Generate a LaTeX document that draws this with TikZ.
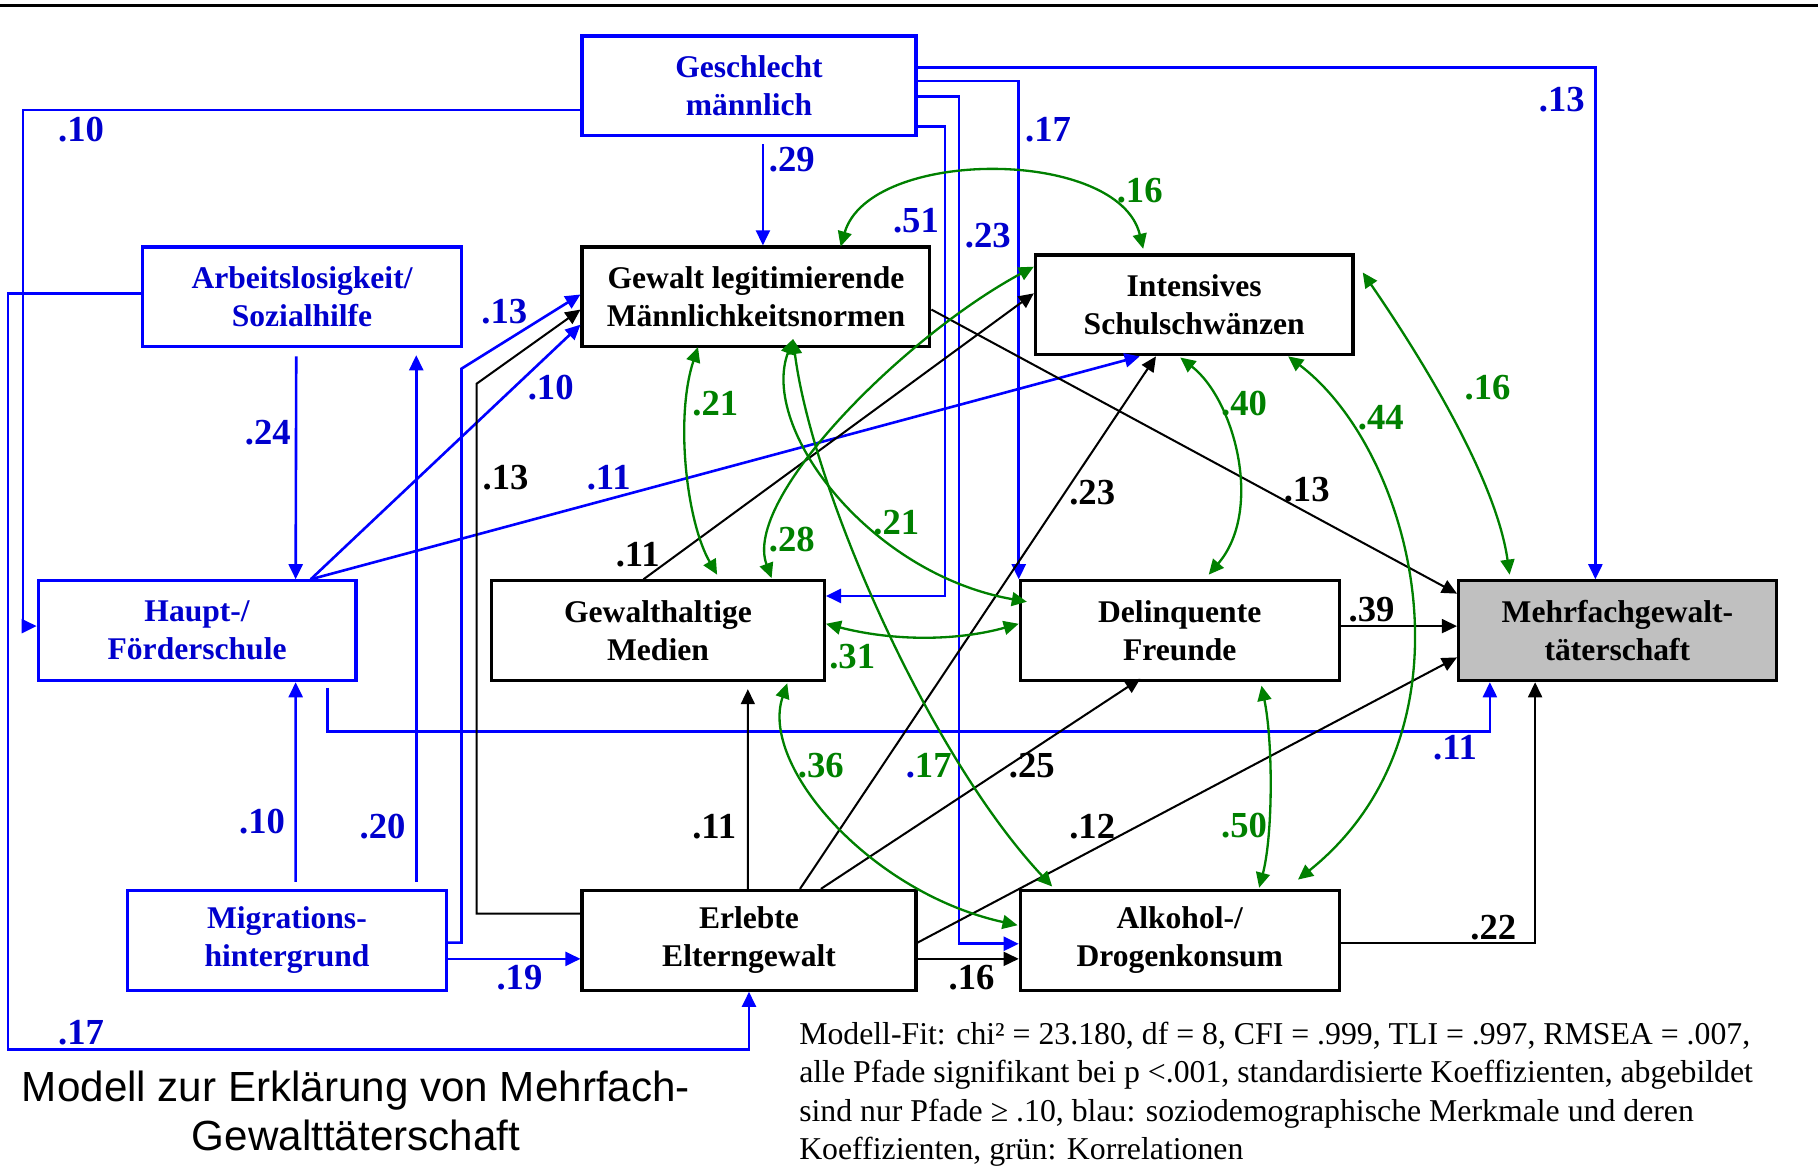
\documentclass[tikz,border=0pt]{standalone}
\usepackage{fontspec}
\setmainfont{Liberation Serif}
\newfontfamily\capfont{Liberation Sans}
\usetikzlibrary{arrows.meta,calc}

\definecolor{linkblue}{RGB}{0,0,255}
\definecolor{textblue}{RGB}{0,0,205}
\definecolor{corrgreen}{RGB}{0,128,0}
\definecolor{targetgray}{RGB}{192,192,192}

\newcommand{\boxfont}{\fontsize{15.5}{18.7}\selectfont\bfseries}
\newcommand{\coeffont}{\fontsize{18}{20}\selectfont\bfseries}

\tikzset{
  >={Triangle[length=0.26cm,width=0.24cm]},
  varbox/.style={draw, line width=0.055cm, minimum height=1.72cm, inner sep=0pt, align=center, font=\boxfont},
  socbox/.style={varbox, draw=linkblue, text=textblue},
  socpath/.style={draw=linkblue, line width=0.045cm, ->},
  effpath/.style={draw=black, line width=0.035cm, ->},
  corpath/.style={draw=corrgreen, line width=0.04cm, <->},
  coef/.style={font=\coeffont, inner sep=0pt},
}

\begin{document}
\begin{tikzpicture}[x=0.02cm, y=-0.02cm]
  \useasboundingbox (0,0) rectangle (1568,1007);
  \draw[line width=0.05cm] (0,5) -- (1568,5);

  % Variablen
  \node[socbox, minimum width=5.76cm] (gesch) at (646,74) {Geschlecht\\männlich};
  \node[socbox, minimum width=5.5cm] (arbeit) at (260.5,256) {Arbeitslosigkeit/\\Sozialhilfe};
  \node[varbox, minimum width=6cm] (normen) at (652,256) {Gewalt legitimierende\\Männlichkeitsnormen};
  \node[varbox, minimum width=5.48cm] (schwaenz) at (1030,263) {Intensives\\Schulschwänzen};
  \node[socbox, minimum width=5.48cm] (haupt) at (170,544) {Haupt-/\\Förderschule};
  \node[varbox, minimum width=5.74cm] (medien) at (567.5,544) {Gewalthaltige\\Medien};
  \node[varbox, minimum width=5.5cm] (freunde) at (1017.5,544) {Delinquente\\Freunde};
  \node[varbox, minimum width=5.48cm, fill=targetgray] (mehrfach) at (1395,544) {Mehrfachgewalt-\\täterschaft};
  \node[socbox, minimum width=5.5cm] (migration) at (247.5,811) {Migrations-\\hintergrund};
  \node[varbox, minimum width=5.76cm] (eltern) at (646,811) {Erlebte\\Elterngewalt};
  \node[varbox, minimum width=5.5cm] (alkohol) at (1017.5,811) {Alkohol-/\\Drogenkonsum};

  % soziodemographische Pfade
  \draw[socpath] (gesch.west |- 0,95) -| (20,540) -- (haupt.west |- 0,540);
  \draw[socpath] (gesch.east |- 0,58) -| ($(mehrfach.north)+(-19,0)$);
  \draw[socpath] (gesch.east |- 0,70) -| (freunde.north west);
  \draw[socpath] (gesch.east |- 0,83) -| (827,814) -- (alkohol.west |- 0,814);
  \draw[socpath] (gesch.east |- 0,109) -| (815,514) -- (medien.east |- 0,514);
  \draw[socpath] ($(gesch.south)+(12,6)$) -- (normen.north -| 658,0);
  \draw[socpath] (arbeit.west |- 0,253) -| (7,905) -| (eltern.south);
  \draw[socpath] ($(arbeit.south)+(-5,7)$) -- (haupt.north -| 255,0);
  \draw[socpath] ($(haupt.north)+(98,0)$) -- (normen.west |- 0,280);
  \draw[socpath] ($(haupt.north)+(98,0)$) -- ($(schwaenz.south)+(-47,0)$);
  \draw[socpath] ($(haupt.south east)+(-26,5)$) |- (1285,631) -- (mehrfach.south -| 1285,0);
  \draw[socpath] ($(migration.north)+(7.5,-6)$) -- (haupt.south -| 255,0);
  \draw[socpath] ($(migration.north)+(111.5,-6)$) -- ($(arbeit.south)+(98.5,6)$);
  \draw[socpath] (migration.east |- 0,813) -| (398,318) -- (normen.west |- 0,254);
  \draw[socpath] (migration.east |- 0,827) -- (eltern.west |- 0,827);

  % Effekte
  \draw[effpath] (eltern.west |- 0,788) -| (411,331) -- (normen.west |- 0,267);
  \draw[effpath] (eltern.north -| 645,0) -- ($(medien.south)+(77.5,6)$);
  \draw[effpath] (eltern.north -| 690,0) -- ($(schwaenz.south)+(-33,0)$);
  \draw[effpath] (eltern.north -| 708,0) -- ($(freunde.south)+(-34,-3)$);
  \draw[effpath] (eltern.east |- 0,813) -- (mehrfach.west |- 0,567);
  \draw[effpath] (eltern.east |- 0,827) -- (alkohol.west |- 0,827);
  \draw[effpath] (medien.north -| 555,0) -- (schwaenz.west |- 0,253);
  \draw[effpath] (normen.east |- 0,267) -- (mehrfach.west |- 0,512);
  \draw[effpath] (freunde.east |- 0,540) -- (mehrfach.west |- 0,540);
  \draw[effpath] (alkohol.east |- 0,813) -| ($(mehrfach.south)+(-71,0)$);

  % Korrelationen
  \draw[corpath] ($(normen.north)+(73,1)$) .. controls (750,127) and (965,127) .. ($(schwaenz.north)+(-44,-4)$);
  \draw[corpath] ($(normen.south)+(-50,-1)$) .. controls (582,360) and (592,450) .. ($(medien.north)+(51,-4)$);
  \draw[corpath] ($(normen.south)+(32,-8)$) .. controls (655,370) and (750,495) .. ($(freunde.west)+(7,-25)$);
  \draw[corpath] ($(medien.north)+(98,-1)$) .. controls (640,430) and (780,290) .. (schwaenz.west |- 0,230);
  \draw[corpath] (medien.east |- 0,538) .. controls (770,553) and (825,553) .. (freunde.west |- 0,538);
  \draw[corpath] ($(medien.south)+(111.5,1)$) .. controls (655,660) and (750,770) .. ($(alkohol.west)+(-1,-13)$);
  \draw[corpath] ($(normen.south)+(32,-8)$) .. controls (700,420) and (800,650) .. ($(alkohol.north)+(-110,-2)$);
  \draw[corpath] ($(schwaenz.south)+(-12,1)$) .. controls (1065,345) and (1090,440) .. ($(freunde.north)+(25,-4)$);
  \draw[corpath] ($(schwaenz.south)+(81,0)$) .. controls (1220,390) and (1280,630) .. ($(alkohol.north)+(102,-8)$);
  \draw[corpath] ($(schwaenz.east)+(7,-28)$) .. controls (1220,300) and (1290,410) .. ($(mehrfach.north)+(-93,-4)$);
  \draw[corpath] ($(freunde.south)+(70.5,3)$) .. controls (1098,640) and (1098,720) .. ($(alkohol.north)+(68.5,-1)$);

  % Koeffizienten
  \node[coef, text=textblue] (c-gesch-haupt) at (70,112) {.10};
  \node[coef, text=textblue] (c-gesch-normen) at (683,138) {.29};
  \node[coef, text=textblue] (c-gesch-freunde) at (904,112) {.17};
  \node[coef, text=textblue] (c-gesch-mehrfach) at (1347,86) {.13};
  \node[coef, text=textblue] (c-gesch-medien) at (790,190) {.51};
  \node[coef, text=textblue] (c-gesch-alkohol) at (852,203) {.23};
  \node[coef, text=corrgreen] (c-normen-schwaenz) at (983,164) {.16};
  \node[coef, text=textblue] (c-migr-normen) at (435,269) {.13};
  \node[coef, text=textblue] (c-haupt-normen) at (475,334) {.10};
  \node[coef, text=textblue] (c-arbeit-haupt) at (231,373) {.24};
  \node[coef] (c-eltern-normen) at (436,412) {.13};
  \node[coef, text=textblue] (c-haupt-schwaenz) at (525,412) {.11};
  \node[coef, text=corrgreen] (c-normen-medien) at (617,348) {.21};
  \node[coef, text=corrgreen] (c-schwaenz-freunde) at (1073,348) {.40};
  \node[coef, text=corrgreen] (c-schwaenz-alkohol) at (1191,360) {.44};
  \node[coef, text=corrgreen] (c-schwaenz-mehrfach) at (1283,334) {.16};
  \node[coef] (c-eltern-schwaenz) at (942,425) {.23};
  \node[coef] (c-normen-mehrfach) at (1127,422) {.13};
  \node[coef] (c-medien-schwaenz) at (550,478) {.11};
  \node[coef, text=corrgreen] (c-medien-schwaenz2) at (683,465) {.28};
  \node[coef, text=corrgreen] (c-normen-freunde) at (773,451) {.21};
  \node[coef] (c-freunde-mehrfach) at (1183,526) {.39};
  \node[coef, text=corrgreen] (c-medien-freunde) at (735,566) {.31};
  \node[coef, text=textblue] (c-haupt-mehrfach) at (1255,645) {.11};
  \node[coef, text=corrgreen] (c-medien-alkohol) at (708,660) {.36};
  \node[coef, text=corrgreen] (c-normen-alkohol) at (801,660) {{\color{textblue}.}17};
  \node[coef] (c-eltern-freunde) at (890,660) {.25};
  \node[coef, text=textblue] (c-migr-haupt) at (226,709) {.10};
  \node[coef, text=textblue] (c-migr-arbeit) at (330,713) {.20};
  \node[coef] (c-eltern-medien) at (616,713) {.11};
  \node[coef] (c-eltern-mehrfach) at (942,713) {.12};
  \node[coef, text=corrgreen] (c-freunde-alkohol) at (1073,712) {.50};
  \node[coef] (c-alkohol-mehrfach) at (1288,800) {.22};
  \node[coef, text=textblue] (c-migr-eltern) at (448,843) {.19};
  \node[coef] (c-eltern-alkohol) at (838,843) {.16};
  \node[coef, text=textblue] (c-arbeit-eltern) at (70,891) {.17};

  % Titel und Legende
  \node[anchor=north, align=center, inner sep=0pt, font={\capfont\fontsize{20.7}{24.4}\selectfont}] (caption) at (307,923)
    {Modell zur Erklärung von Mehrfach-\\Gewalttäterschaft};
  \node[anchor=north west, align=left, inner sep=0pt, font={\fontsize{15.6}{18.9}\selectfont}] (fit) at (689,881)
    {Modell-Fit: chi² = 23.180, df = 8, CFI = .999, TLI = .997, RMSEA = .007,\\
     alle Pfade signifikant bei p <.001, standardisierte Koeffizienten, abgebildet\\
     sind nur Pfade ≥ .10, blau: soziodemographische Merkmale und deren\\
     Koeffizienten, grün: Korrelationen};
\end{tikzpicture}
\end{document}
